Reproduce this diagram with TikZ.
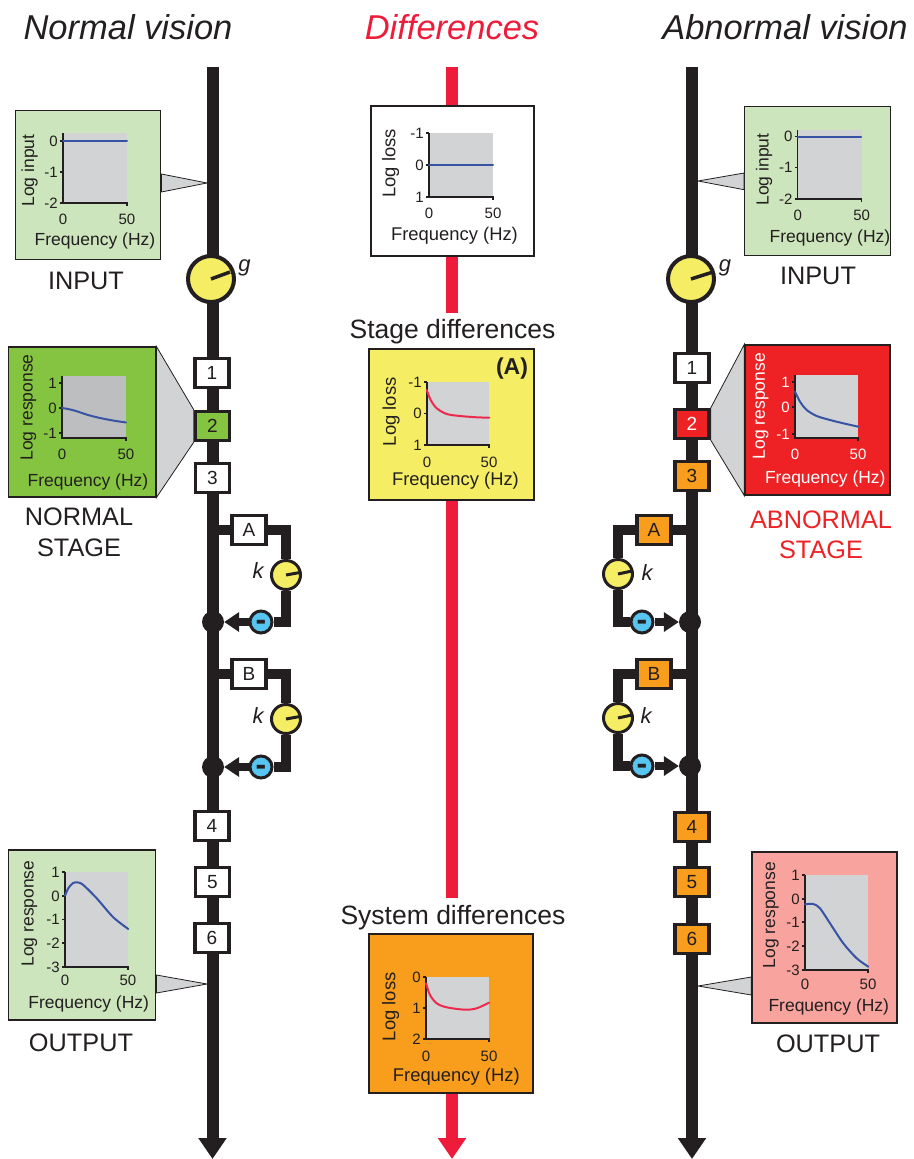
\documentclass[tikz,border=0pt]{standalone}
\usepackage{fontspec}
\setmainfont{Liberation Sans}
\usetikzlibrary{arrows.meta}
\definecolor{dark}{HTML}{231F20}
\definecolor{diffred}{HTML}{EE1C3A}
\definecolor{lightgreen}{HTML}{CCE5BC}
\definecolor{stagegreen}{HTML}{85C441}
\definecolor{stagered}{HTML}{EE2224}
\definecolor{stageorange}{HTML}{F99D1C}
\definecolor{pinkbox}{HTML}{F8A39D}
\definecolor{knobyellow}{HTML}{F5EE64}
\definecolor{minusblue}{HTML}{58C4F0}
\definecolor{plotgray}{HTML}{D1D3D4}
\definecolor{plotdarkgray}{HTML}{BCBEC0}
\definecolor{curveblue}{HTML}{3953A4}
\definecolor{curvered}{HTML}{EE2A4C}
\tikzset{
  spine/.style={line width=12pt,draw=dark},
  redspine/.style={line width=12pt,draw=diffred},
  bigtip/.style={-{Triangle[length=21pt,width=27pt]}},
  branch/.style={line width=10pt,draw=dark},
  feedback/.style={line width=8.5pt,draw=dark,-{Triangle[length=15pt,width=19pt]}},
  panel/.style={draw=dark,line width=1.3pt,inner sep=0pt},
  stagebox/.style={draw=dark,line width=3.6pt,fill=white,minimum width=34pt,minimum height=29pt,inner sep=0pt,
    font=\fontsize{19}{22}\selectfont},
  knob/.style={circle,draw=dark,fill=knobyellow,inner sep=0pt},
  bigknob/.style={knob,line width=4pt,minimum size=46pt},
  smallknob/.style={knob,line width=3pt,minimum size=29pt},
  needle/.style={line width=3.5pt,draw=dark},
  minus/.style={circle,draw=dark,line width=3pt,fill=minusblue,minimum size=22pt,inner sep=0pt,
    text height=17pt,text depth=0pt,font=\fontsize{32}{34}\bfseries\selectfont},
  dot/.style={circle,fill=dark,minimum size=22pt,inner sep=0pt},
  pointer/.style={draw=dark,line width=0.8pt,fill=plotgray},
  plotaxis/.style={draw=dark,line width=1.3pt},
  plotcurve/.style={line width=2pt,line cap=round},
  ticktext/.style={font=\fontsize{15}{17}\selectfont,inner sep=0pt},
  axislabel/.style={font=\fontsize{17.5}{20}\selectfont,inner sep=0pt,yshift=-1.5pt},
  sidelabel/.style={font=\fontsize{17.5}{20}\selectfont,inner sep=0pt,rotate=90,xshift=1.5pt},
  midtext/.style={font=\fontsize{18.4}{21}\selectfont},
  biglabel/.style={font=\fontsize{25.3}{28}\selectfont,inner sep=0pt},
  headline/.style={font=\fontsize{26.5}{30}\selectfont,inner sep=0pt},
  title/.style={font=\fontsize{34.5}{38}\itshape\selectfont,inner sep=0pt},
  gainlabel/.style={font=\fontsize{22}{25}\itshape\selectfont,inner sep=0pt},
}
% left, top, right, bottom, gap to the 0 and 50; ticks as y/label in \smallticks
\newcommand{\smallplot}[6][plotgray]{%
  \fill[#1] (#2,#3) rectangle (#4,#5);
  \draw[plotaxis] (#2,#3) -- (#2,#5) -- (#4,#5) -- (#4,#5+3);
  \foreach \ty/\tl in \smallticks {
    \draw[plotaxis] (#2-3,\ty) -- (#2,\ty);
    \node[ticktext,anchor=east] at (#2-5,\ty) {\tl};
  }
  \node[ticktext] at (#2,#5+#6) {0};
  \node[ticktext] at (#4,#5+#6) {50};
}
\begin{document}
\begin{tikzpicture}[x=1pt,y=-1pt,text=dark]
  \useasboundingbox (0,0) rectangle (913,1159);
  % titles
  \node[title] (Ntitle) at (128,27) {Normal vision};
  \node[title,text=diffred] (Dtitle) at (452,27) {Differences};
  \node[title] (Atitle) at (785,27) {Abnormal vision};

  % spines
  \coordinate (Ntop) at (212.5,67);
  \coordinate (Nend) at (212.5,1159);
  \coordinate (Atop) at (692,67);
  \coordinate (Aend) at (692,1159);
  \draw[spine,bigtip] (Ntop) -- (Nend);
  \draw[spine,bigtip] (Atop) -- (Aend);

  % normal: input
  \node[panel,fill=lightgreen,minimum width=145.5pt,minimum height=149pt] (Ninput) at (88,185) {};
  \def\smallticks{141/0,172/-1,203/-2}
  \smallplot{63}{133}{127}{203}{16}
  \draw[plotcurve,curveblue] (63,141) -- (127,141);
  \node[axislabel] (Nifreq) at (95,239) {Frequency (Hz)};
  \node[sidelabel] (Nilog) at (29.5,172) {Log input};
  \coordinate (Nitip) at (207,183);
  \draw[pointer] (Ninput.east |- 0,174) -- (Nitip) -- (Ninput.east |- 0,192) -- cycle;
  \node[biglabel] (Nilabel) at (86,281) {INPUT};
  \node[bigknob] (Ng) at (211,279) {};
  \draw[needle] (Ng.center) -- (230,272);
  \node[gainlabel] (Nglabel) at (244.5,268) {g};

  % normal: stages
  \node[stagebox] (N1) at (212,373) {1};
  \node[stagebox,fill=stagegreen] (N2) at (212.5,426) {2};
  \node[stagebox] (N3) at (212.5,478) {3};
  \node[stagebox] (N4) at (212,826) {4};
  \node[stagebox] (N5) at (212.5,882) {5};
  \node[stagebox] (N6) at (212,938) {6};
  \node[panel,fill=stagegreen,minimum width=147pt,minimum height=150pt] (Nstage) at (82.2,422) {};
  \draw[pointer] (Nstage.north east) -- (N2.north west) -- (N2.south west) -- (Nstage.south east) -- cycle;
  \def\smallticks{383/1,408/0,433/-1}
  \smallplot[plotdarkgray]{62}{376}{126}{438}{16}
  \draw[plotcurve,curveblue] plot[smooth] coordinates {(62,408) (68,409) (76,411) (88,415) (100,418) (113,420.5) (126,422.5)};
  \node[axislabel] (Nsfreq) at (88,480) {Frequency (Hz)};
  \node[sidelabel] (Nslog) at (28.5,409) {Log response};
  \node[biglabel] (Nslabel) at (79,517) {NORMAL};
  \node[biglabel] (Nslabelb) at (79,548) {STAGE};

  % normal: loops
  \node[stagebox] (NA) at (249,530) {A};
  \node[smallknob] (NkA) at (286,575) {};
  \node[minus] (NmA) at (261,622) {-};
  \node[dot] (NdA) at (213,622) {};
  \draw[branch] (NA.west) -- (NA.west -| Ntop);
  \draw[branch] (NA.east) -| (NkA.north);
  \draw[branch] (NkA.south) |- (NmA.east);
  \draw[feedback] (NmA.west) -- (NdA.east);
  \draw[needle,line width=3pt] (NkA.center) -- (300,572.5);
  \node[gainlabel] (NkAlabel) at (258,571) {k};
  \node[stagebox] (NB) at (249,674) {B};
  \node[smallknob] (NkB) at (286,719) {};
  \node[minus] (NmB) at (261,767) {-};
  \node[dot] (NdB) at (213,767) {};
  \draw[branch] (NB.west) -- (NB.west -| Ntop);
  \draw[branch] (NB.east) -| (NkB.north);
  \draw[branch] (NkB.south) |- (NmB.east);
  \draw[feedback] (NmB.west) -- (NdB.east);
  \draw[needle,line width=3pt] (NkB.center) -- (300,716.5);
  \node[gainlabel] (NkBlabel) at (258,716) {k};

  % normal: output
  \node[panel,fill=lightgreen,minimum width=147pt,minimum height=170pt] (Noutput) at (82.3,935) {};
  \def\smallticks{872/1,896/0,919.5/-1,943/-2,967/-3}
  \smallplot{65}{872}{128}{967}{13}
  \draw[plotcurve,curveblue] plot[smooth] coordinates {(65,895.7) (68.3,888.3) (72.7,883.3) (77.3,882.3) (83.3,885) (96.7,898.3) (113.3,917.3) (128.3,929)};
  \node[axislabel] (Nofreq) at (88.7,1002.7) {Frequency (Hz)};
  \node[sidelabel] (Nolog) at (29.3,915) {Log response};
  \coordinate (Notip) at (207,984);
  \draw[pointer] (Noutput.east |- 0,975) -- (Notip) -- (Noutput.east |- 0,993) -- cycle;
  \node[biglabel] (Nolabel) at (81,1043) {OUTPUT};

  % differences: the line
  \coordinate (Dtop) at (452,67);
  \coordinate (Dstop) at (452,313);
  \coordinate (Dstopb) at (452,898);
  \coordinate (Dend) at (452,1159);
  \node[panel,fill=white,minimum width=163pt,minimum height=150pt] (Dflat) at (452.5,181) {};
  \node[panel,fill=knobyellow,minimum width=165pt,minimum height=151pt] (Dstage) at (451.5,424.5) {};
  \node[panel,fill=stageorange,minimum width=164pt,minimum height=159pt] (Dsystem) at (451,1013.5) {};
  \draw[redspine] (Dtop) -- (Dflat.north -| Dtop);
  \draw[redspine] (Dflat.south -| Dtop) -- (Dstop);
  \draw[redspine] (Dstage.south -| Dtop) -- (Dstopb);
  \draw[redspine,bigtip] (Dsystem.south -| Dtop) -- (Dend);

  % differences: flat plot
  \def\smallticks{133/-1,165/0,197/1}
  \smallplot{429}{133}{493}{197}{16}
  \draw[plotcurve,curveblue] (429,165) -- (493,165);
  \node[axislabel,midtext] (Dffreq) at (454.5,234.3) {Frequency (Hz)};
  \node[sidelabel,midtext] (Dflog) at (390.7,165) {Log loss};

  % differences: stage
  \node[headline] (Dshead) at (452.5,332) {Stage differences};
  \def\smallticks{382/-1,413.5/0,445/1}
  \smallplot{427}{382}{489}{445}{17}
  \draw[plotcurve,curvered] plot[smooth] coordinates {(426.7,390) (430.7,400) (436.7,408.3) (446.7,414) (460,416) (476.7,417.3) (489.3,417.7)};
  \node[axislabel,midtext] (Dsfreq) at (455.5,479.3) {Frequency (Hz)};
  \node[sidelabel,midtext] (Dslog) at (391,413.3) {Log loss};
  \node[font=\fontsize{23}{26}\bfseries\selectfont,inner sep=0pt] (Dsmark) at (512,369) {(A)};

  % differences: system
  \node[headline] (Dyhead) at (453,917.5) {System differences};
  \def\smallticks{977/0,1008/1,1039/2}
  \smallplot{426}{977}{489}{1039}{17}
  \draw[plotcurve,curvered] plot[smooth] coordinates {(426,983.3) (430,995) (436.7,1003.3) (446.7,1007.3) (465,1009.7) (476.7,1008.3) (489,1002.7)};
  \node[axislabel,midtext] (Dyfreq) at (456.3,1075) {Frequency (Hz)};
  \node[sidelabel,midtext] (Dylog) at (390.7,1008.3) {Log loss};

  % abnormal: input
  \node[panel,fill=lightgreen,minimum width=145.5pt,minimum height=149pt] (Ainput) at (817.5,181.2) {};
  \def\smallticks{136.7/0,167.7/-1,199/-2}
  \smallplot{797.7}{130}{861.7}{199}{16}
  \draw[plotcurve,curveblue] (797.7,136.7) -- (861,136.7);
  \node[axislabel] (Aifreq) at (830,236.7) {Frequency (Hz)};
  \node[sidelabel] (Ailog) at (764,171) {Log input};
  \coordinate (Aitip) at (698,181);
  \draw[pointer] (Ainput.west |- 0,173) -- (Aitip) -- (Ainput.west |- 0,189.7) -- cycle;
  \node[biglabel] (Ailabel) at (818,275.7) {INPUT};
  \node[bigknob] (Ag) at (691,279) {};
  \draw[needle] (Ag.center) -- (713,272);
  \node[gainlabel] (Aglabel) at (725,268) {g};

  % abnormal: stages
  \node[stagebox] (A1) at (692,368) {1};
  \node[stagebox,fill=stagered,text=white] (A2) at (692,424) {2};
  \node[stagebox,fill=stageorange] (A3) at (692,476) {3};
  \node[stagebox,fill=stageorange] (A4) at (692,827) {4};
  \node[stagebox,fill=stageorange] (A5) at (692,882) {5};
  \node[stagebox,fill=stageorange] (A6) at (692,939) {6};
  \node[panel,fill=stagered,minimum width=145pt,minimum height=150pt] (Astage) at (817.5,420) {};
  \draw[pointer] (Astage.north west) -- (A2.north east) -- (A2.south east) -- (Astage.south west) -- cycle;
  \begin{scope}[text=white]
    \def\smallticks{382/1,407/0,434/-1}
    \smallplot{795}{375}{858}{438}{16}
    \draw[plotcurve,curveblue] plot[smooth] coordinates {(795,391.7) (800,401.7) (806.7,410) (816.7,416) (830,420) (843.3,423.3) (858.3,426.7)};
    \node[axislabel] (Asfreq) at (825.3,477.3) {Frequency (Hz)};
    \node[sidelabel] (Aslog) at (760.7,407.7) {Log response};
  \end{scope}
  \node[biglabel,text=stagered] (Aslabel) at (821,520) {ABNORMAL};
  \node[biglabel,text=stagered] (Aslabelb) at (821,550) {STAGE};

  % abnormal: loops
  \node[stagebox,fill=stageorange] (AA) at (654,530) {A};
  \node[smallknob] (AkA) at (618,574) {};
  \node[minus] (AmA) at (642,622) {-};
  \node[dot] (AdA) at (690,622) {};
  \draw[branch] (AA.east) -- (AA.east -| Atop);
  \draw[branch] (AA.west) -| (AkA.north);
  \draw[branch] (AkA.south) |- (AmA.west);
  \draw[feedback] (AmA.east) -- (AdA.west);
  \draw[needle,line width=3pt] (AkA.center) -- (632,571);
  \node[gainlabel] (AkAlabel) at (647,573) {k};
  \node[stagebox,fill=stageorange] (AB) at (654,674) {B};
  \node[smallknob] (AkB) at (618,718) {};
  \node[minus] (AmB) at (642,766) {-};
  \node[dot] (AdB) at (690,766) {};
  \draw[branch] (AB.east) -- (AB.east -| Atop);
  \draw[branch] (AB.west) -| (AkB.north);
  \draw[branch] (AkB.south) |- (AmB.west);
  \draw[feedback] (AmB.east) -- (AdB.west);
  \draw[needle,line width=3pt] (AkB.center) -- (632,715);
  \node[gainlabel] (AkBlabel) at (646,716) {k};

  % abnormal: output
  \node[panel,fill=pinkbox,minimum width=145pt,minimum height=171pt] (Aoutput) at (824.5,937.5) {};
  \def\smallticks{875/1,899/0,922/-1,946/-2,970/-3}
  \smallplot{805}{875}{868}{970}{14}
  \draw[plotcurve,curveblue] plot[smooth] coordinates {(805,904.3) (813.3,904) (820,908.3) (830,923.3) (843.3,943.3) (856.7,958.3) (868.3,966.7)};
  \node[axislabel] (Aofreq) at (828.8,1005.7) {Frequency (Hz)};
  \node[sidelabel] (Aolog) at (771,916.7) {Log response};
  \coordinate (Aotip) at (698,986);
  \draw[pointer] (Aoutput.west |- 0,977) -- (Aotip) -- (Aoutput.west |- 0,995) -- cycle;
  \node[biglabel] (Aolabel) at (828,1044) {OUTPUT};
\end{tikzpicture}
\end{document}
